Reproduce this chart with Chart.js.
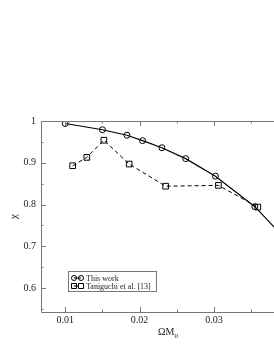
<!DOCTYPE html>
<html>
<head>
<meta charset="utf-8">
<script src="https://cdn.jsdelivr.net/npm/chart.js@4"></script>
<style>
html, body { margin: 0; padding: 0; background: #fff; overflow: hidden; }
#wrap { width: 274px; height: 354px; overflow: hidden; }
</style>
</head>
<body>
<div id="wrap"><canvas id="myChart" width="300" height="354"></canvas></div>
<script>
// data
var thisWorkX = [0.0100, 0.0150, 0.0183, 0.0204, 0.0230, 0.0262, 0.0302, 0.0355, 0.0388];
var thisWorkY = [0.994, 0.979, 0.966, 0.953, 0.936, 0.910, 0.868, 0.795, 0.733];
var taniguchiX = [0.0110, 0.0129, 0.0152, 0.0186, 0.0235, 0.0306, 0.0359];
var taniguchiY = [0.893, 0.913, 0.954, 0.897, 0.844, 0.846, 0.794];

var xTicks = [0.01, 0.02, 0.03, 0.04];
var xTickLabels = ['0.01', '0.02', '0.03', '0.04'];
var xMinor = [0.01, 0.015, 0.02, 0.025, 0.03, 0.035, 0.04];
var yTicks = [0.6, 0.7, 0.8, 0.9, 1.0];
var yTickLabels = ['0.6', '0.7', '0.8', '0.9', '1'];
var yMinor = [0.55, 0.6, 0.65, 0.7, 0.75, 0.8, 0.85, 0.9, 0.95, 1.0];
var seriesNames = ['This work', 'Taniguchi et al. [13]'];

var serif = "'Liberation Serif', 'DejaVu Serif', serif";

function pts(xs, ys) {
  return xs.map(function (x, i) { return { x: x, y: ys[i] }; });
}

// axis frame, inward ticks, x title and legend box
var gracePlugin = {
  id: 'grace',
  afterDatasetsDraw: function (chart) {
    var ctx = chart.ctx;
    var a = chart.chartArea;
    var sx = chart.scales.x, sy = chart.scales.y;
    ctx.save();
    ctx.strokeStyle = '#777';
    ctx.lineWidth = 1;
    ctx.beginPath();
    ctx.moveTo(a.left + 0.5, a.top + 0.5);
    ctx.lineTo(a.left + 0.5, a.bottom + 0.5);
    ctx.lineTo(a.right, a.bottom + 0.5);
    ctx.moveTo(a.left + 0.5, a.top + 0.5);
    ctx.lineTo(a.right, a.top + 0.5);
    ctx.stroke();

    ctx.beginPath();
    xMinor.forEach(function (v) {
      var px = Math.round(sx.getPixelForValue(v)) + 0.5;
      var len = xTicks.indexOf(v) >= 0 ? 5 : 2.5;
      ctx.moveTo(px, a.bottom);
      ctx.lineTo(px, a.bottom - len);
      ctx.moveTo(px, a.top);
      ctx.lineTo(px, a.top + len);
    });
    yMinor.forEach(function (v) {
      var py = Math.round(sy.getPixelForValue(v)) + 0.5;
      var len = yTicks.indexOf(v) >= 0 ? 5 : 2.5;
      ctx.moveTo(a.left, py);
      ctx.lineTo(a.left + len, py);
    });
    ctx.stroke();

    // x title: ΩM0 with subscript
    ctx.fillStyle = '#222';
    ctx.textBaseline = 'alphabetic';
    var main = 'ΩM';
    ctx.font = '10px ' + serif;
    var w1 = ctx.measureText(main).width;
    ctx.font = '7px ' + serif;
    var w2 = ctx.measureText('0').width;
    var tx = (a.left + a.right) / 2 - (w1 + w2) / 2;
    ctx.font = '10px ' + serif;
    ctx.fillText(main, tx, 335);
    ctx.font = '7px ' + serif;
    ctx.fillText('0', tx + w1, 338);

    // legend box
    var bx = 68.5, by = 271.5, bw = 88, bh = 20;
    ctx.fillStyle = '#fff';
    ctx.fillRect(bx, by, bw, bh);
    ctx.strokeStyle = '#777';
    ctx.strokeRect(bx, by, bw, bh);
    var rows = [278, 286];
    chart.data.datasets.forEach(function (ds, i) {
      var y = rows[i];
      ctx.strokeStyle = '#000';
      ctx.lineWidth = 1;
      ctx.setLineDash(ds.borderDash || []);
      ctx.beginPath();
      ctx.moveTo(74, y);
      ctx.lineTo(81, y);
      ctx.stroke();
      ctx.setLineDash([]);
      [74, 81].forEach(function (mx) {
        ctx.beginPath();
        if (ds.pointStyle === 'rect') {
          ctx.rect(mx - 2.5, y - 2.5, 5, 5);
        } else {
          ctx.arc(mx, y, 2.5, 0, Math.PI * 2);
        }
        ctx.stroke();
      });
      ctx.fillStyle = '#222';
      ctx.font = '8px ' + serif;
      ctx.textBaseline = 'middle';
      ctx.fillText(seriesNames[i], 86, y + 0.5);
    });
    ctx.restore();
  }
};

var ctx = document.getElementById('myChart');
var chart = new Chart(ctx, {
  type: 'scatter',
  data: {
    datasets: [{
      label: seriesNames[0],
      data: pts(thisWorkX, thisWorkY),
      showLine: true,
      borderColor: '#000',
      borderWidth: 1.2,
      pointStyle: 'circle',
      pointRadius: 3,
      pointBorderWidth: 1,
      pointBackgroundColor: 'rgba(0,0,0,0)',
      pointBorderColor: '#000'
    }, {
      label: seriesNames[1],
      data: pts(taniguchiX, taniguchiY),
      showLine: true,
      borderColor: '#000',
      borderWidth: 1,
      borderDash: [4, 3],
      pointStyle: 'rect',
      pointRadius: 4,
      pointBorderWidth: 1,
      pointBackgroundColor: 'rgba(0,0,0,0)',
      pointBorderColor: '#000'
    }]
  },
  options: {
    responsive: false,
    animation: false,
    devicePixelRatio: 1,
    layout: { padding: { top: 121, right: 0, bottom: 0, left: 0 } },
    plugins: { legend: { display: false }, tooltip: { enabled: false } },
    scales: {
      x: {
        type: 'linear',
        min: 0.00674,
        max: 0.0409,
        grid: { display: false, drawTicks: false },
        border: { display: false },
        afterBuildTicks: function (s) { s.ticks = xTicks.map(function (v) { return { value: v }; }); },
        afterFit: function (s) { s.height = 42; },
        ticks: {
          padding: 2,
          maxRotation: 0,
          color: '#222',
          font: { family: serif, size: 10 },
          callback: function (v, i) { return xTickLabels[i]; }
        }
      },
      y: {
        type: 'linear',
        min: 0.543,
        max: 1.0,
        grid: { display: false, drawTicks: false },
        border: { display: false },
        afterBuildTicks: function (s) { s.ticks = yTicks.map(function (v) { return { value: v }; }); },
        afterFit: function (s) { s.width = 41; },
        ticks: {
          padding: 5,
          color: '#222',
          font: { family: serif, size: 10 },
          callback: function (v, i) { return yTickLabels[i]; }
        },
        title: {
          display: true,
          text: 'χ',
          color: '#222',
          font: { family: serif, size: 11 },
          padding: { top: 8, bottom: 0 }
        }
      }
    }
  },
  plugins: [gracePlugin]
});
</script>
</body>
</html>
